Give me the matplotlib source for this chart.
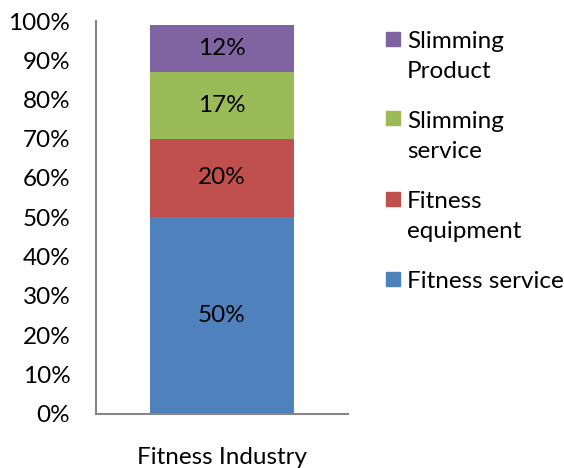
import matplotlib
matplotlib.use("Agg")
import matplotlib.pyplot as plt
from matplotlib.patches import Rectangle

categories = ["Fitness Industry"]
series_names = ["Fitness service", "Fitness equipment", "Slimming service", "Slimming Product"]
legend_labels = ["Fitness service", "Fitness\nequipment", "Slimming\nservice", "Slimming\nProduct"]
values = [50, 20, 17, 12]
colors = ["#4F81BD", "#C0504D", "#9BBB59", "#8064A2"]
yticks = list(range(0, 101, 10))

plt.rcParams["font.family"] = ["Lato", "DejaVu Sans"]
FS = 17.5

W, H = 564, 468
fig = plt.figure(figsize=(W / 100, H / 100), dpi=100)
ax = fig.add_axes([96 / W, (H - 413.5) / H, (348 - 96) / W, (413.5 - 21) / H])

bottom = 0
for name, v, c in zip(series_names, values, colors):
    ax.bar(0, v, width=0.575, bottom=bottom, color=c, label=name, zorder=2)
    ax.text(0, bottom + v / 2, f"{v}%", ha="center", va="center", fontsize=FS, color="#000000")
    bottom += v

ax.set_xlim(-0.5, 0.5)
ax.set_ylim(0, 100)
ax.set_yticks(yticks)
ax.set_yticklabels([f"{t}%" for t in yticks], fontsize=FS)
ax.set_xticks([0])
ax.set_xticklabels(categories, fontsize=FS)
ax.tick_params(axis="both", length=0, colors="#000000")
ax.tick_params(axis="y", pad=18.5)
ax.tick_params(axis="x", pad=24)
for s in ["top", "right"]:
    ax.spines[s].set_visible(False)
for s in ["left", "bottom"]:
    ax.spines[s].set_color("#868686")
    ax.spines[s].set_linewidth(1.5)

# legend, top entry first, squares aligned with the first text line
y0 = 38.5
step = 80
for i, (lab, c) in enumerate(zip(reversed(legend_labels), reversed(colors))):
    yc = y0 + i * step
    fig.patches.append(Rectangle((386 / W, 1 - (yc + 7) / H), 14 / W, 14 / H,
                                 transform=fig.transFigure, color=c))
    fig.text(407 / W, 1 - (yc - 8) / H, lab, ha="left", va="top", fontsize=FS,
             linespacing=1.55, color="#000000")

fig.savefig("out.png", dpi=100)
